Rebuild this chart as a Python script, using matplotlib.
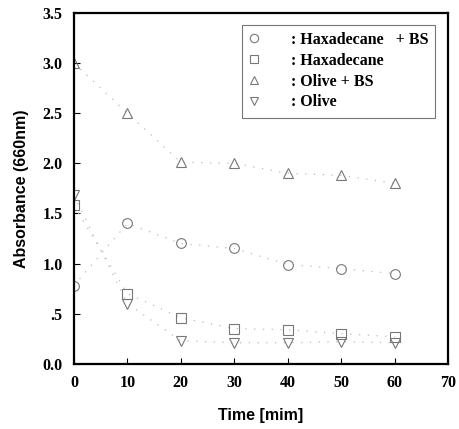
import matplotlib
matplotlib.use("Agg")
from matplotlib import pyplot as plt

# data
time = [0, 10, 20, 30, 40, 50, 60]
hexa_bs = [0.78, 1.40, 1.20, 1.15, 0.99, 0.95, 0.90]
hexa = [1.58, 0.70, 0.46, 0.35, 0.34, 0.30, 0.27]
olive_bs = [3.00, 2.50, 2.01, 2.00, 1.90, 1.88, 1.80]
olive = [1.68, 0.60, 0.23, 0.21, 0.21, 0.22, 0.21]

labels = [": Haxadecane   + BS", ": Haxadecane", ": Olive + BS", ": Olive"]
markers = ["o", "s", "^", "v"]
yticks = [0.0, 0.5, 1.0, 1.5, 2.0, 2.5, 3.0, 3.5]
ytick_labels = ["0.0", ".5", "1.0", "1.5", "2.0", "2.5", "3.0", "3.5"]
xticks = [0, 10, 20, 30, 40, 50, 60, 70]

fig = plt.figure(figsize=(4.59, 4.29), dpi=100)
ax = fig.add_axes([0.161, 0.152, 0.815, 0.818])

for ys, m, lab in zip([hexa_bs, hexa, olive_bs, olive], markers, labels):
    ax.plot(time, ys, linestyle=(0, (1, 6)), color="#bbbbbb", lw=0.9,
            marker=m, markersize=7, markerfacecolor="none",
            markeredgecolor="#777777", markeredgewidth=0.8, label=lab)

ax.set_xlim(0, 70)
ax.set_ylim(0, 3.5)
ax.set_xticks(xticks)
ax.set_yticks(yticks)
ax.set_yticklabels(ytick_labels)
ax.tick_params(direction="in", length=4, width=0.8, pad=8)
for lbl in ax.get_xticklabels() + ax.get_yticklabels():
    lbl.set_fontfamily("Liberation Serif")
    lbl.set_fontweight("bold")
    lbl.set_fontsize(11.5)
for sp in ax.spines.values():
    sp.set_linewidth(1.6)

ax.set_xlabel("Time [mim]", fontfamily="Liberation Sans", fontweight="bold",
              fontsize=11.5, labelpad=12)
ax.set_ylabel("Absorbance (660nm)", fontfamily="Liberation Sans",
              fontweight="bold", fontsize=11.5, labelpad=10)

leg = ax.legend(loc="upper right", bbox_to_anchor=(0.975, 0.975),
                prop={"family": "Liberation Serif", "weight": "bold", "size": 11.5},
                frameon=True, fancybox=False, edgecolor="#555555",
                handlelength=0.6, handletextpad=2.0, borderpad=0.45,
                borderaxespad=0.2, labelspacing=0.3)
for h in leg.legend_handles:
    h.set_linestyle("none")
    h.set_markersize(6)
leg.get_frame().set_linewidth(0.8)

fig.savefig("out.png", dpi=100)
